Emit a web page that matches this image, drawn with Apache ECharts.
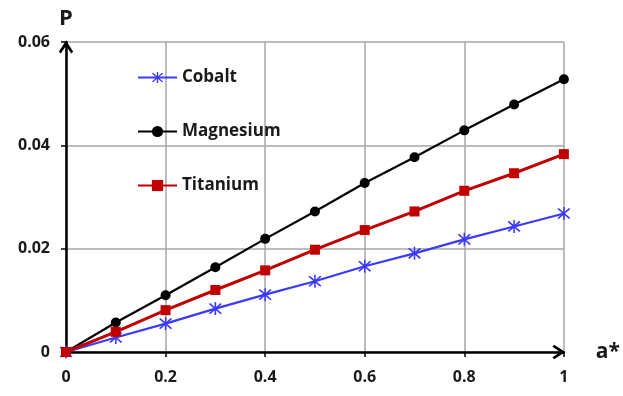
<!DOCTYPE html>
<html>
<head>
<meta charset="utf-8">
<script src="https://cdn.jsdelivr.net/npm/echarts@6/dist/echarts.min.js"></script>
<style>
  html, body { margin: 0; padding: 0; background: #fff; }
  #chart { width: 623px; height: 396px; }
</style>
</head>
<body>
<div id="chart"></div>
<script>
// a* values along the x axis
const aValues = [0, 0.1, 0.2, 0.3, 0.4, 0.5, 0.6, 0.7, 0.8, 0.9, 1];

const seriesNames = ['Cobalt', 'Magnesium', 'Titanium'];
const cobalt = [0, 0.0028, 0.0055, 0.0084, 0.0111, 0.0137, 0.0166, 0.0191, 0.0218, 0.0243, 0.0268];
const magnesium = [0, 0.0057, 0.011, 0.0164, 0.0219, 0.0272, 0.0327, 0.0377, 0.0429, 0.0479, 0.0528];
const titanium = [0, 0.0039, 0.0081, 0.012, 0.0158, 0.0198, 0.0236, 0.0272, 0.0312, 0.0346, 0.0383];

const fontFamily = '"Open Sans", "Liberation Sans", sans-serif';
const textColor = '#1a1a1a';

// asterisk marker (vertical bar + X), all parts wound the same way
const starPath = 'path://M4.4,0 L5.6,0 L5.6,10 L4.4,10 Z M0,1.5 L1,0.7 L10,8.5 L9,9.3 Z M10,1.5 L1,9.3 L0,8.5 L9,0.7 Z';
// open arrow head for the axis ends
const chevron = 'path://M5,0 L10,7.8 L8.6,9 L5,3.6 L1.4,9 L0,7.8 Z';

function pairs(ys) {
  return aValues.map((x, i) => [x, ys[i]]);
}

const chart = echarts.init(document.getElementById('chart'));

chart.setOption({
  animation: false,
  grid: { left: 66, right: 59, top: 42, bottom: 44 },
  legend: {
    orient: 'vertical',
    left: 132,
    top: 64,
    itemWidth: 39,
    itemHeight: 14,
    itemGap: 37,
    data: seriesNames,
    textStyle: { fontFamily: fontFamily, fontWeight: 'bold', fontSize: 17, color: textColor }
  },
  xAxis: {
    type: 'value',
    min: 0,
    max: 1,
    interval: 0.2,
    name: 'a*',
    nameLocation: 'end',
    nameGap: 32,
    nameTextStyle: { fontFamily: fontFamily, fontWeight: 'bold', fontSize: 21, color: textColor, padding: [8, 0, 0, 0] },
    axisLine: {
      lineStyle: { color: '#000', width: 2.5 },
      symbol: ['none', chevron],
      symbolSize: [17, 13],
      symbolOffset: [0, -5]
    },
    axisTick: { show: true, length: 5, lineStyle: { color: '#000', width: 1.5 } },
    axisLabel: { margin: 17, fontFamily: fontFamily, fontWeight: 'bold', fontSize: 16, color: textColor },
    splitLine: { show: true, lineStyle: { color: '#a6a6a6', width: 1.5 } }
  },
  yAxis: {
    type: 'value',
    min: 0,
    max: 0.06,
    interval: 0.02,
    name: 'P',
    nameLocation: 'end',
    nameGap: 12,
    nameTextStyle: { fontFamily: fontFamily, fontWeight: 'bold', fontSize: 22, color: textColor, align: 'center' },
    axisLine: {
      show: true,
      lineStyle: { color: '#000', width: 2.5 },
      symbol: ['none', chevron],
      symbolSize: [17, 13],
      symbolOffset: [0, -5]
    },
    axisTick: { show: true, length: 5, lineStyle: { color: '#000', width: 1.5 } },
    axisLabel: { margin: 16, fontFamily: fontFamily, fontWeight: 'bold', fontSize: 16, color: textColor },
    splitLine: { show: true, lineStyle: { color: '#a6a6a6', width: 1.5 } }
  },
  series: [
    {
      name: 'Cobalt',
      type: 'line',
      data: pairs(cobalt),
      symbol: starPath,
      symbolSize: 13,
      lineStyle: { color: '#3a3aff', width: 2.2 },
      itemStyle: { color: '#3a3aff' },
      z: 3
    },
    {
      name: 'Magnesium',
      type: 'line',
      data: pairs(magnesium),
      symbol: 'circle',
      symbolSize: 10,
      lineStyle: { color: '#000', width: 2.2 },
      itemStyle: { color: '#000' },
      z: 2
    },
    {
      name: 'Titanium',
      type: 'line',
      data: pairs(titanium),
      symbol: 'rect',
      symbolSize: 10,
      lineStyle: { color: '#c00000', width: 3 },
      itemStyle: { color: '#c00000' },
      z: 4
    }
  ]
});
</script>
</body>
</html>
